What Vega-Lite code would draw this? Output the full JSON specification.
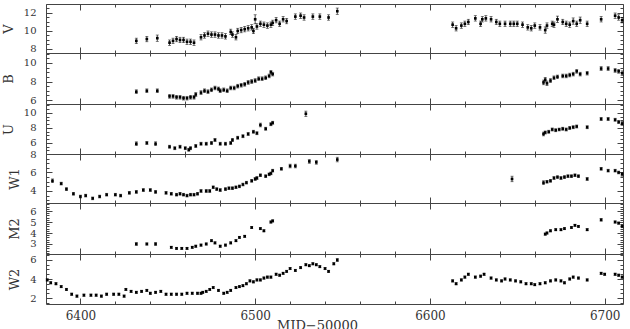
{
"$schema": "https://vega.github.io/schema/vega-lite/v6.json",
"background": "white",
"padding": {"left": 1, "top": 3, "right": 0, "bottom": 0},
"spacing": 0,
"bounds": "flush",
"data": {"values": [
{"band":"V","mjd":6432,"mag":8.9,"err":0.3},{"band":"V","mjd":6438,"mag":9.1,"err":0.3},{"band":"V","mjd":6444,"mag":9.2,"err":0.35},{"band":"V","mjd":6451,"mag":8.7,"err":0.3},{"band":"V","mjd":6453,"mag":8.9,"err":0.3},{"band":"V","mjd":6455,"mag":9.1,"err":0.3},{"band":"V","mjd":6457,"mag":9.0,"err":0.3},{"band":"V","mjd":6459,"mag":9.0,"err":0.3},{"band":"V","mjd":6461,"mag":8.8,"err":0.3},{"band":"V","mjd":6463,"mag":8.8,"err":0.3},{"band":"V","mjd":6465,"mag":8.7,"err":0.3},{"band":"V","mjd":6469,"mag":9.3,"err":0.3},{"band":"V","mjd":6471,"mag":9.5,"err":0.3},{"band":"V","mjd":6473,"mag":9.7,"err":0.3},{"band":"V","mjd":6475,"mag":9.6,"err":0.3},{"band":"V","mjd":6477,"mag":9.6,"err":0.3},{"band":"V","mjd":6479,"mag":9.5,"err":0.3},{"band":"V","mjd":6481,"mag":9.5,"err":0.3},{"band":"V","mjd":6483,"mag":9.4,"err":0.3},{"band":"V","mjd":6486,"mag":9.9,"err":0.3},{"band":"V","mjd":6487,"mag":9.6,"err":0.3},{"band":"V","mjd":6489,"mag":9.3,"err":0.3},{"band":"V","mjd":6490,"mag":10.0,"err":0.3},{"band":"V","mjd":6492,"mag":10.1,"err":0.3},{"band":"V","mjd":6494,"mag":10.2,"err":0.3},{"band":"V","mjd":6496,"mag":10.3,"err":0.3},{"band":"V","mjd":6498,"mag":10.4,"err":0.3},{"band":"V","mjd":6499,"mag":10.0,"err":0.3},{"band":"V","mjd":6500,"mag":11.3,"err":0.5},{"band":"V","mjd":6501,"mag":10.5,"err":0.3},{"band":"V","mjd":6503,"mag":10.8,"err":0.3},{"band":"V","mjd":6505,"mag":10.7,"err":0.3},{"band":"V","mjd":6507,"mag":10.6,"err":0.3},{"band":"V","mjd":6509,"mag":10.7,"err":0.3},{"band":"V","mjd":6510,"mag":10.9,"err":0.3},{"band":"V","mjd":6512,"mag":11.2,"err":0.3},{"band":"V","mjd":6514,"mag":10.8,"err":0.3},{"band":"V","mjd":6516,"mag":11.3,"err":0.3},{"band":"V","mjd":6518,"mag":11.1,"err":0.3},{"band":"V","mjd":6523,"mag":11.6,"err":0.3},{"band":"V","mjd":6526,"mag":11.7,"err":0.3},{"band":"V","mjd":6528,"mag":11.5,"err":0.3},{"band":"V","mjd":6533,"mag":11.6,"err":0.3},{"band":"V","mjd":6537,"mag":11.6,"err":0.3},{"band":"V","mjd":6542,"mag":11.5,"err":0.3},{"band":"V","mjd":6547,"mag":12.2,"err":0.35},
{"band":"V","mjd":6613,"mag":10.7,"err":0.3},{"band":"V","mjd":6615,"mag":10.3,"err":0.3},{"band":"V","mjd":6618,"mag":10.6,"err":0.3},{"band":"V","mjd":6620,"mag":10.8,"err":0.3},{"band":"V","mjd":6622,"mag":11.0,"err":0.3},{"band":"V","mjd":6626,"mag":11.4,"err":0.3},{"band":"V","mjd":6629,"mag":10.8,"err":0.3},{"band":"V","mjd":6630,"mag":11.3,"err":0.3},{"band":"V","mjd":6632,"mag":11.4,"err":0.3},{"band":"V","mjd":6635,"mag":11.3,"err":0.3},{"band":"V","mjd":6638,"mag":11.0,"err":0.3},{"band":"V","mjd":6640,"mag":10.8,"err":0.3},{"band":"V","mjd":6643,"mag":10.8,"err":0.3},{"band":"V","mjd":6646,"mag":10.8,"err":0.3},{"band":"V","mjd":6648,"mag":10.8,"err":0.3},{"band":"V","mjd":6650,"mag":10.8,"err":0.3},{"band":"V","mjd":6653,"mag":10.7,"err":0.3},{"band":"V","mjd":6656,"mag":10.4,"err":0.3},{"band":"V","mjd":6658,"mag":10.3,"err":0.3},{"band":"V","mjd":6660,"mag":10.6,"err":0.3},{"band":"V","mjd":6663,"mag":10.4,"err":0.3},{"band":"V","mjd":6666,"mag":10.1,"err":0.35},{"band":"V","mjd":6667,"mag":10.6,"err":0.3},{"band":"V","mjd":6670,"mag":10.8,"err":0.3},{"band":"V","mjd":6671,"mag":10.7,"err":0.3},{"band":"V","mjd":6673,"mag":11.3,"err":0.35},{"band":"V","mjd":6676,"mag":11.0,"err":0.3},{"band":"V","mjd":6678,"mag":10.8,"err":0.3},{"band":"V","mjd":6680,"mag":10.7,"err":0.3},{"band":"V","mjd":6682,"mag":11.1,"err":0.35},{"band":"V","mjd":6684,"mag":10.8,"err":0.3},{"band":"V","mjd":6686,"mag":11.2,"err":0.35},{"band":"V","mjd":6690,"mag":10.8,"err":0.3},{"band":"V","mjd":6698,"mag":11.3,"err":0.3},{"band":"V","mjd":6706,"mag":11.7,"err":0.3},{"band":"V","mjd":6708,"mag":11.5,"err":0.3},{"band":"V","mjd":6710,"mag":11.2,"err":0.3},
{"band":"B","mjd":6432,"mag":6.9,"err":0.2},{"band":"B","mjd":6438,"mag":7.0,"err":0.2},{"band":"B","mjd":6444,"mag":7.0,"err":0.2},{"band":"B","mjd":6451,"mag":6.4,"err":0.2},{"band":"B","mjd":6453,"mag":6.4,"err":0.2},{"band":"B","mjd":6455,"mag":6.3,"err":0.2},{"band":"B","mjd":6457,"mag":6.3,"err":0.2},{"band":"B","mjd":6459,"mag":6.2,"err":0.2},{"band":"B","mjd":6461,"mag":6.2,"err":0.2},{"band":"B","mjd":6463,"mag":6.3,"err":0.2},{"band":"B","mjd":6465,"mag":6.3,"err":0.2},{"band":"B","mjd":6466,"mag":6.6,"err":0.2},{"band":"B","mjd":6469,"mag":6.8,"err":0.2},{"band":"B","mjd":6471,"mag":7.0,"err":0.2},{"band":"B","mjd":6473,"mag":6.9,"err":0.2},{"band":"B","mjd":6475,"mag":7.1,"err":0.2},{"band":"B","mjd":6477,"mag":7.3,"err":0.2},{"band":"B","mjd":6479,"mag":7.2,"err":0.2},{"band":"B","mjd":6480,"mag":7.0,"err":0.2},{"band":"B","mjd":6482,"mag":7.1,"err":0.2},{"band":"B","mjd":6484,"mag":7.0,"err":0.2},{"band":"B","mjd":6486,"mag":7.3,"err":0.2},{"band":"B","mjd":6488,"mag":7.3,"err":0.2},{"band":"B","mjd":6490,"mag":7.5,"err":0.2},{"band":"B","mjd":6492,"mag":7.6,"err":0.2},{"band":"B","mjd":6494,"mag":7.7,"err":0.2},{"band":"B","mjd":6496,"mag":7.9,"err":0.2},{"band":"B","mjd":6498,"mag":8.0,"err":0.2},{"band":"B","mjd":6500,"mag":8.1,"err":0.2},{"band":"B","mjd":6502,"mag":8.3,"err":0.2},{"band":"B","mjd":6504,"mag":8.3,"err":0.2},{"band":"B","mjd":6506,"mag":8.4,"err":0.2},{"band":"B","mjd":6508,"mag":8.6,"err":0.2},{"band":"B","mjd":6509,"mag":9.0,"err":0.2},{"band":"B","mjd":6510,"mag":8.8,"err":0.2},
{"band":"B","mjd":6665,"mag":7.9,"err":0.25},{"band":"B","mjd":6666,"mag":8.2,"err":0.25},{"band":"B","mjd":6667,"mag":7.8,"err":0.25},{"band":"B","mjd":6669,"mag":8.1,"err":0.2},{"band":"B","mjd":6671,"mag":8.4,"err":0.2},{"band":"B","mjd":6673,"mag":8.5,"err":0.2},{"band":"B","mjd":6676,"mag":8.6,"err":0.2},{"band":"B","mjd":6678,"mag":8.6,"err":0.2},{"band":"B","mjd":6680,"mag":8.7,"err":0.2},{"band":"B","mjd":6682,"mag":8.8,"err":0.2},{"band":"B","mjd":6684,"mag":9.1,"err":0.2},{"band":"B","mjd":6686,"mag":8.8,"err":0.2},{"band":"B","mjd":6690,"mag":8.9,"err":0.2},{"band":"B","mjd":6698,"mag":9.4,"err":0.2},{"band":"B","mjd":6702,"mag":9.4,"err":0.2},{"band":"B","mjd":6706,"mag":9.2,"err":0.2},{"band":"B","mjd":6708,"mag":9.1,"err":0.2},{"band":"B","mjd":6710,"mag":8.9,"err":0.25},
{"band":"U","mjd":6432,"mag":5.9,"err":0.25},{"band":"U","mjd":6438,"mag":6.0,"err":0.2},{"band":"U","mjd":6443,"mag":5.9,"err":0.25},{"band":"U","mjd":6451,"mag":5.5,"err":0.2},{"band":"U","mjd":6454,"mag":5.3,"err":0.2},{"band":"U","mjd":6457,"mag":5.5,"err":0.2},{"band":"U","mjd":6460,"mag":5.3,"err":0.2},{"band":"U","mjd":6462,"mag":5.1,"err":0.2},{"band":"U","mjd":6463,"mag":5.3,"err":0.2},{"band":"U","mjd":6466,"mag":5.6,"err":0.2},{"band":"U","mjd":6469,"mag":5.9,"err":0.2},{"band":"U","mjd":6472,"mag":5.9,"err":0.2},{"band":"U","mjd":6475,"mag":6.0,"err":0.2},{"band":"U","mjd":6477,"mag":6.4,"err":0.2},{"band":"U","mjd":6480,"mag":5.9,"err":0.2},{"band":"U","mjd":6483,"mag":5.9,"err":0.2},{"band":"U","mjd":6486,"mag":6.0,"err":0.2},{"band":"U","mjd":6487,"mag":6.4,"err":0.2},{"band":"U","mjd":6490,"mag":6.7,"err":0.2},{"band":"U","mjd":6493,"mag":6.9,"err":0.2},{"band":"U","mjd":6496,"mag":7.2,"err":0.2},{"band":"U","mjd":6499,"mag":7.5,"err":0.2},{"band":"U","mjd":6501,"mag":7.3,"err":0.2},{"band":"U","mjd":6503,"mag":8.4,"err":0.25},{"band":"U","mjd":6506,"mag":7.9,"err":0.2},{"band":"U","mjd":6509,"mag":8.5,"err":0.2},{"band":"U","mjd":6510,"mag":8.7,"err":0.2},{"band":"U","mjd":6529,"mag":9.9,"err":0.35},
{"band":"U","mjd":6665,"mag":7.2,"err":0.25},{"band":"U","mjd":6666,"mag":7.4,"err":0.2},{"band":"U","mjd":6668,"mag":7.5,"err":0.2},{"band":"U","mjd":6670,"mag":7.8,"err":0.2},{"band":"U","mjd":6672,"mag":7.7,"err":0.2},{"band":"U","mjd":6674,"mag":7.8,"err":0.2},{"band":"U","mjd":6676,"mag":7.9,"err":0.2},{"band":"U","mjd":6678,"mag":7.8,"err":0.2},{"band":"U","mjd":6680,"mag":8.0,"err":0.2},{"band":"U","mjd":6682,"mag":8.1,"err":0.2},{"band":"U","mjd":6684,"mag":8.2,"err":0.2},{"band":"U","mjd":6690,"mag":8.1,"err":0.2},{"band":"U","mjd":6698,"mag":9.2,"err":0.2},{"band":"U","mjd":6702,"mag":9.2,"err":0.2},{"band":"U","mjd":6706,"mag":9.1,"err":0.2},{"band":"U","mjd":6708,"mag":8.8,"err":0.2},{"band":"U","mjd":6710,"mag":8.6,"err":0.25},
{"band":"W1","mjd":6384,"mag":5.1,"err":0.2},{"band":"W1","mjd":6389,"mag":4.8,"err":0.15},{"band":"W1","mjd":6392,"mag":4.2,"err":0.15},{"band":"W1","mjd":6396,"mag":3.7,"err":0.15},{"band":"W1","mjd":6400,"mag":3.4,"err":0.15},{"band":"W1","mjd":6403,"mag":3.5,"err":0.15},{"band":"W1","mjd":6407,"mag":3.2,"err":0.15},{"band":"W1","mjd":6411,"mag":3.4,"err":0.15},{"band":"W1","mjd":6415,"mag":3.6,"err":0.15},{"band":"W1","mjd":6420,"mag":3.6,"err":0.15},{"band":"W1","mjd":6423,"mag":3.5,"err":0.15},{"band":"W1","mjd":6428,"mag":3.8,"err":0.15},{"band":"W1","mjd":6432,"mag":3.9,"err":0.15},{"band":"W1","mjd":6436,"mag":4.1,"err":0.15},{"band":"W1","mjd":6440,"mag":4.1,"err":0.15},{"band":"W1","mjd":6443,"mag":3.9,"err":0.15},{"band":"W1","mjd":6449,"mag":3.8,"err":0.15},{"band":"W1","mjd":6452,"mag":3.7,"err":0.15},{"band":"W1","mjd":6455,"mag":3.6,"err":0.15},{"band":"W1","mjd":6457,"mag":3.7,"err":0.15},{"band":"W1","mjd":6459,"mag":3.6,"err":0.15},{"band":"W1","mjd":6461,"mag":3.5,"err":0.15},{"band":"W1","mjd":6463,"mag":3.6,"err":0.15},{"band":"W1","mjd":6465,"mag":3.6,"err":0.15},{"band":"W1","mjd":6467,"mag":3.7,"err":0.15},{"band":"W1","mjd":6469,"mag":4.0,"err":0.15},{"band":"W1","mjd":6472,"mag":4.0,"err":0.15},{"band":"W1","mjd":6474,"mag":4.0,"err":0.15},{"band":"W1","mjd":6476,"mag":4.4,"err":0.15},{"band":"W1","mjd":6478,"mag":4.2,"err":0.15},{"band":"W1","mjd":6480,"mag":4.1,"err":0.15},{"band":"W1","mjd":6483,"mag":4.2,"err":0.15},{"band":"W1","mjd":6485,"mag":4.3,"err":0.15},{"band":"W1","mjd":6487,"mag":4.3,"err":0.15},{"band":"W1","mjd":6489,"mag":4.4,"err":0.15},{"band":"W1","mjd":6491,"mag":4.5,"err":0.15},{"band":"W1","mjd":6493,"mag":4.7,"err":0.15},{"band":"W1","mjd":6495,"mag":4.9,"err":0.15},{"band":"W1","mjd":6498,"mag":5.1,"err":0.15},{"band":"W1","mjd":6500,"mag":5.3,"err":0.15},{"band":"W1","mjd":6501,"mag":5.4,"err":0.15},{"band":"W1","mjd":6503,"mag":5.7,"err":0.15},{"band":"W1","mjd":6506,"mag":5.6,"err":0.15},{"band":"W1","mjd":6508,"mag":5.8,"err":0.15},{"band":"W1","mjd":6509,"mag":5.9,"err":0.15},{"band":"W1","mjd":6510,"mag":6.2,"err":0.15},{"band":"W1","mjd":6515,"mag":6.4,"err":0.15},{"band":"W1","mjd":6520,"mag":6.7,"err":0.2},{"band":"W1","mjd":6523,"mag":6.7,"err":0.2},{"band":"W1","mjd":6531,"mag":7.2,"err":0.2},{"band":"W1","mjd":6535,"mag":7.1,"err":0.2},{"band":"W1","mjd":6547,"mag":7.4,"err":0.25},
{"band":"W1","mjd":6647,"mag":5.3,"err":0.3},{"band":"W1","mjd":6665,"mag":4.9,"err":0.2},{"band":"W1","mjd":6667,"mag":5.0,"err":0.15},{"band":"W1","mjd":6669,"mag":5.1,"err":0.15},{"band":"W1","mjd":6671,"mag":5.4,"err":0.15},{"band":"W1","mjd":6673,"mag":5.5,"err":0.15},{"band":"W1","mjd":6675,"mag":5.4,"err":0.15},{"band":"W1","mjd":6677,"mag":5.5,"err":0.15},{"band":"W1","mjd":6679,"mag":5.6,"err":0.15},{"band":"W1","mjd":6681,"mag":5.6,"err":0.15},{"band":"W1","mjd":6683,"mag":5.7,"err":0.15},{"band":"W1","mjd":6685,"mag":5.6,"err":0.15},{"band":"W1","mjd":6690,"mag":5.3,"err":0.15},{"band":"W1","mjd":6698,"mag":6.4,"err":0.15},{"band":"W1","mjd":6702,"mag":6.2,"err":0.15},{"band":"W1","mjd":6706,"mag":6.2,"err":0.15},{"band":"W1","mjd":6708,"mag":6.0,"err":0.15},{"band":"W1","mjd":6710,"mag":5.8,"err":0.2},
{"band":"M2","mjd":6432,"mag":3.0,"err":0.12},{"band":"M2","mjd":6438,"mag":3.0,"err":0.1},{"band":"M2","mjd":6443,"mag":3.0,"err":0.12},{"band":"M2","mjd":6452,"mag":2.7,"err":0.1},{"band":"M2","mjd":6455,"mag":2.6,"err":0.1},{"band":"M2","mjd":6458,"mag":2.6,"err":0.1},{"band":"M2","mjd":6461,"mag":2.6,"err":0.1},{"band":"M2","mjd":6464,"mag":2.7,"err":0.1},{"band":"M2","mjd":6466,"mag":2.8,"err":0.1},{"band":"M2","mjd":6469,"mag":2.9,"err":0.1},{"band":"M2","mjd":6472,"mag":3.0,"err":0.1},{"band":"M2","mjd":6475,"mag":3.3,"err":0.1},{"band":"M2","mjd":6477,"mag":3.1,"err":0.1},{"band":"M2","mjd":6480,"mag":2.8,"err":0.1},{"band":"M2","mjd":6483,"mag":2.9,"err":0.1},{"band":"M2","mjd":6486,"mag":3.1,"err":0.1},{"band":"M2","mjd":6489,"mag":3.3,"err":0.1},{"band":"M2","mjd":6491,"mag":3.6,"err":0.1},{"band":"M2","mjd":6494,"mag":3.7,"err":0.1},{"band":"M2","mjd":6498,"mag":4.5,"err":0.1},{"band":"M2","mjd":6503,"mag":4.4,"err":0.1},{"band":"M2","mjd":6505,"mag":4.2,"err":0.1},{"band":"M2","mjd":6509,"mag":5.0,"err":0.1},{"band":"M2","mjd":6510,"mag":5.1,"err":0.1},
{"band":"M2","mjd":6666,"mag":3.9,"err":0.1},{"band":"M2","mjd":6667,"mag":4.0,"err":0.1},{"band":"M2","mjd":6669,"mag":4.2,"err":0.1},{"band":"M2","mjd":6672,"mag":4.3,"err":0.1},{"band":"M2","mjd":6675,"mag":4.3,"err":0.1},{"band":"M2","mjd":6677,"mag":4.4,"err":0.1},{"band":"M2","mjd":6681,"mag":4.5,"err":0.1},{"band":"M2","mjd":6683,"mag":4.7,"err":0.1},{"band":"M2","mjd":6685,"mag":4.6,"err":0.1},{"band":"M2","mjd":6690,"mag":4.3,"err":0.1},{"band":"M2","mjd":6698,"mag":5.2,"err":0.12},{"band":"M2","mjd":6706,"mag":5.0,"err":0.1},{"band":"M2","mjd":6708,"mag":4.9,"err":0.1},{"band":"M2","mjd":6710,"mag":4.6,"err":0.12},
{"band":"W2","mjd":6381,"mag":3.9,"err":0.12},{"band":"W2","mjd":6383,"mag":3.6,"err":0.12},{"band":"W2","mjd":6386,"mag":3.5,"err":0.12},{"band":"W2","mjd":6389,"mag":3.2,"err":0.12},{"band":"W2","mjd":6392,"mag":2.9,"err":0.12},{"band":"W2","mjd":6395,"mag":2.4,"err":0.12},{"band":"W2","mjd":6398,"mag":2.2,"err":0.12},{"band":"W2","mjd":6402,"mag":2.3,"err":0.12},{"band":"W2","mjd":6406,"mag":2.3,"err":0.12},{"band":"W2","mjd":6409,"mag":2.3,"err":0.12},{"band":"W2","mjd":6412,"mag":2.2,"err":0.12},{"band":"W2","mjd":6415,"mag":2.4,"err":0.12},{"band":"W2","mjd":6419,"mag":2.4,"err":0.12},{"band":"W2","mjd":6422,"mag":2.4,"err":0.12},{"band":"W2","mjd":6425,"mag":2.2,"err":0.12},{"band":"W2","mjd":6426,"mag":2.9,"err":0.12},{"band":"W2","mjd":6429,"mag":2.7,"err":0.12},{"band":"W2","mjd":6432,"mag":2.6,"err":0.12},{"band":"W2","mjd":6435,"mag":2.7,"err":0.12},{"band":"W2","mjd":6438,"mag":2.8,"err":0.12},{"band":"W2","mjd":6440,"mag":2.5,"err":0.12},{"band":"W2","mjd":6443,"mag":2.6,"err":0.12},{"band":"W2","mjd":6446,"mag":2.7,"err":0.12},{"band":"W2","mjd":6449,"mag":2.4,"err":0.12},{"band":"W2","mjd":6452,"mag":2.4,"err":0.12},{"band":"W2","mjd":6455,"mag":2.4,"err":0.12},{"band":"W2","mjd":6458,"mag":2.4,"err":0.12},{"band":"W2","mjd":6461,"mag":2.5,"err":0.12},{"band":"W2","mjd":6464,"mag":2.5,"err":0.12},{"band":"W2","mjd":6467,"mag":2.5,"err":0.12},{"band":"W2","mjd":6469,"mag":2.5,"err":0.12},{"band":"W2","mjd":6470,"mag":2.6,"err":0.12},{"band":"W2","mjd":6472,"mag":2.7,"err":0.12},{"band":"W2","mjd":6474,"mag":2.9,"err":0.12},{"band":"W2","mjd":6476,"mag":3.1,"err":0.12},{"band":"W2","mjd":6479,"mag":2.8,"err":0.12},{"band":"W2","mjd":6482,"mag":2.5,"err":0.12},{"band":"W2","mjd":6484,"mag":2.6,"err":0.12},{"band":"W2","mjd":6486,"mag":2.8,"err":0.12},{"band":"W2","mjd":6489,"mag":3.1,"err":0.12},{"band":"W2","mjd":6491,"mag":3.2,"err":0.12},{"band":"W2","mjd":6493,"mag":3.3,"err":0.12},{"band":"W2","mjd":6495,"mag":3.5,"err":0.12},{"band":"W2","mjd":6497,"mag":3.8,"err":0.12},{"band":"W2","mjd":6499,"mag":3.7,"err":0.12},{"band":"W2","mjd":6501,"mag":3.9,"err":0.12},{"band":"W2","mjd":6503,"mag":3.9,"err":0.12},{"band":"W2","mjd":6505,"mag":4.1,"err":0.12},{"band":"W2","mjd":6507,"mag":4.2,"err":0.12},{"band":"W2","mjd":6509,"mag":4.2,"err":0.12},{"band":"W2","mjd":6512,"mag":4.5,"err":0.12},{"band":"W2","mjd":6514,"mag":4.4,"err":0.12},{"band":"W2","mjd":6516,"mag":4.6,"err":0.12},{"band":"W2","mjd":6518,"mag":4.8,"err":0.12},{"band":"W2","mjd":6520,"mag":5.1,"err":0.12},{"band":"W2","mjd":6523,"mag":4.9,"err":0.12},{"band":"W2","mjd":6526,"mag":5.2,"err":0.12},{"band":"W2","mjd":6529,"mag":5.5,"err":0.12},{"band":"W2","mjd":6531,"mag":5.4,"err":0.12},{"band":"W2","mjd":6533,"mag":5.6,"err":0.12},{"band":"W2","mjd":6535,"mag":5.5,"err":0.12},{"band":"W2","mjd":6537,"mag":5.3,"err":0.12},{"band":"W2","mjd":6540,"mag":5.1,"err":0.12},{"band":"W2","mjd":6542,"mag":4.8,"err":0.12},{"band":"W2","mjd":6545,"mag":5.6,"err":0.12},{"band":"W2","mjd":6547,"mag":6.0,"err":0.15},
{"band":"W2","mjd":6613,"mag":3.8,"err":0.12},{"band":"W2","mjd":6615,"mag":3.5,"err":0.12},{"band":"W2","mjd":6618,"mag":3.9,"err":0.12},{"band":"W2","mjd":6620,"mag":4.2,"err":0.12},{"band":"W2","mjd":6622,"mag":4.5,"err":0.12},{"band":"W2","mjd":6626,"mag":4.2,"err":0.12},{"band":"W2","mjd":6629,"mag":4.3,"err":0.12},{"band":"W2","mjd":6631,"mag":4.5,"err":0.12},{"band":"W2","mjd":6635,"mag":4.1,"err":0.12},{"band":"W2","mjd":6638,"mag":3.9,"err":0.12},{"band":"W2","mjd":6641,"mag":3.8,"err":0.12},{"band":"W2","mjd":6643,"mag":4.0,"err":0.12},{"band":"W2","mjd":6646,"mag":3.9,"err":0.12},{"band":"W2","mjd":6649,"mag":3.8,"err":0.12},{"band":"W2","mjd":6652,"mag":3.7,"err":0.12},{"band":"W2","mjd":6655,"mag":3.5,"err":0.12},{"band":"W2","mjd":6658,"mag":3.5,"err":0.12},{"band":"W2","mjd":6660,"mag":3.4,"err":0.12},{"band":"W2","mjd":6663,"mag":3.5,"err":0.12},{"band":"W2","mjd":6666,"mag":3.6,"err":0.12},{"band":"W2","mjd":6669,"mag":3.8,"err":0.12},{"band":"W2","mjd":6672,"mag":3.9,"err":0.12},{"band":"W2","mjd":6675,"mag":3.8,"err":0.12},{"band":"W2","mjd":6677,"mag":3.6,"err":0.12},{"band":"W2","mjd":6680,"mag":4.0,"err":0.12},{"band":"W2","mjd":6682,"mag":4.2,"err":0.12},{"band":"W2","mjd":6685,"mag":4.1,"err":0.12},{"band":"W2","mjd":6690,"mag":3.9,"err":0.12},{"band":"W2","mjd":6698,"mag":4.6,"err":0.12},{"band":"W2","mjd":6700,"mag":4.5,"err":0.12},{"band":"W2","mjd":6706,"mag":4.5,"err":0.12},{"band":"W2","mjd":6708,"mag":4.4,"err":0.12},{"band":"W2","mjd":6710,"mag":4.2,"err":0.12}
]},
"vconcat": [
{"width":577,"height":49,"transform":[{"filter":"datum.band==='V'"}],
 "layer":[
  {"mark":{"type":"errorbar","ticks":{"size":3},"color":"#000","thickness":0.7},"encoding":{"x":{"field":"mjd","type":"quantitative","scale":{"domain":[6380.3,6710.5],"nice":false,"zero":false},"axis":{"orient":"bottom","values":[6400,6500,6600,6700],"tickSize":-6,"labels":false,"title":null}},"y":{"field":"mag","type":"quantitative","scale":{"domain":[7.55,13.0],"nice":false,"zero":false},"axis":{"orient":"left","values":[8,10,12],"tickSize":-6,"title":"V","labelPadding":16,"titlePadding":8}},"yError":{"field":"err"}}},
  {"mark":{"type":"square","size":7,"color":"#000","opacity":1},"encoding":{"x":{"field":"mjd","type":"quantitative","scale":{"domain":[6380.3,6710.5],"nice":false,"zero":false},"axis":{"orient":"top","values":[6400,6500,6600,6700],"tickSize":-6,"labels":false,"title":null}},"y":{"field":"mag","type":"quantitative","scale":{"domain":[7.55,13.0],"nice":false,"zero":false},"axis":{"orient":"right","values":[8,10,12],"tickSize":-6,"labels":false,"title":null}}}},
  {"mark":{"type":"point","opacity":0},"encoding":{"x":{"field":"mjd","type":"quantitative","scale":{"domain":[6380.3,6710.5],"nice":false,"zero":false},"axis":{"orient":"bottom","values":[6400,6420,6440,6460,6480,6500,6520,6540,6560,6580,6600,6620,6640,6660,6680,6700],"tickSize":-3,"labels":false,"title":null}},"y":{"field":"mag","type":"quantitative","scale":{"domain":[7.55,13.0],"nice":false,"zero":false},"axis":{"orient":"left","values":[8,8.5,9,9.5,10,10.5,11,11.5,12,12.5,13],"tickSize":-3,"labels":false,"title":null}}}},
  {"mark":{"type":"point","opacity":0},"encoding":{"x":{"field":"mjd","type":"quantitative","scale":{"domain":[6380.3,6710.5],"nice":false,"zero":false},"axis":{"orient":"top","values":[6400,6420,6440,6460,6480,6500,6520,6540,6560,6580,6600,6620,6640,6660,6680,6700],"tickSize":-3,"labels":false,"title":null}},"y":{"field":"mag","type":"quantitative","scale":{"domain":[7.55,13.0],"nice":false,"zero":false},"axis":{"orient":"right","values":[8,8.5,9,9.5,10,10.5,11,11.5,12,12.5,13],"tickSize":-3,"labels":false,"title":null}}}}
 ],
 "resolve":{"axis":{"x":"independent","y":"independent"}}},
{"width":577,"height":51,"transform":[{"filter":"datum.band==='B'"}],
 "layer":[
  {"mark":{"type":"errorbar","ticks":{"size":3},"color":"#000","thickness":0.7},"encoding":{"x":{"field":"mjd","type":"quantitative","scale":{"domain":[6380.3,6710.5],"nice":false,"zero":false},"axis":{"orient":"bottom","values":[6400,6500,6600,6700],"tickSize":-6,"labels":false,"title":null}},"y":{"field":"mag","type":"quantitative","scale":{"domain":[5.57,11.08],"nice":false,"zero":false},"axis":{"orient":"left","values":[6,8,10],"tickSize":-6,"title":"B","labelPadding":16,"titlePadding":8}},"yError":{"field":"err"}}},
  {"mark":{"type":"square","size":7,"color":"#000","opacity":1},"encoding":{"x":{"field":"mjd","type":"quantitative","scale":{"domain":[6380.3,6710.5],"nice":false,"zero":false},"axis":{"orient":"top","values":[6400,6500,6600,6700],"tickSize":-6,"labels":false,"title":null}},"y":{"field":"mag","type":"quantitative","scale":{"domain":[5.57,11.08],"nice":false,"zero":false},"axis":{"orient":"right","values":[6,8,10],"tickSize":-6,"labels":false,"title":null}}}},
  {"mark":{"type":"point","opacity":0},"encoding":{"x":{"field":"mjd","type":"quantitative","scale":{"domain":[6380.3,6710.5],"nice":false,"zero":false},"axis":{"orient":"bottom","values":[6400,6420,6440,6460,6480,6500,6520,6540,6560,6580,6600,6620,6640,6660,6680,6700],"tickSize":-3,"labels":false,"title":null}},"y":{"field":"mag","type":"quantitative","scale":{"domain":[5.57,11.08],"nice":false,"zero":false},"axis":{"orient":"left","values":[6,6.5,7,7.5,8,8.5,9,9.5,10,10.5,11],"tickSize":-3,"labels":false,"title":null}}}},
  {"mark":{"type":"point","opacity":0},"encoding":{"x":{"field":"mjd","type":"quantitative","scale":{"domain":[6380.3,6710.5],"nice":false,"zero":false},"axis":{"orient":"top","values":[6400,6420,6440,6460,6480,6500,6520,6540,6560,6580,6600,6620,6640,6660,6680,6700],"tickSize":-3,"labels":false,"title":null}},"y":{"field":"mag","type":"quantitative","scale":{"domain":[5.57,11.08],"nice":false,"zero":false},"axis":{"orient":"right","values":[6,6.5,7,7.5,8,8.5,9,9.5,10,10.5,11],"tickSize":-3,"labels":false,"title":null}}}}
 ],
 "resolve":{"axis":{"x":"independent","y":"independent"}}},
{"width":577,"height":50,"transform":[{"filter":"datum.band==='U'"}],
 "layer":[
  {"mark":{"type":"errorbar","ticks":{"size":3},"color":"#000","thickness":0.7},"encoding":{"x":{"field":"mjd","type":"quantitative","scale":{"domain":[6380.3,6710.5],"nice":false,"zero":false},"axis":{"orient":"bottom","values":[6400,6500,6600,6700],"tickSize":-6,"labels":false,"title":null}},"y":{"field":"mag","type":"quantitative","scale":{"domain":[4.53,11.2],"nice":false,"zero":false},"axis":{"orient":"left","values":[6,8,10],"tickSize":-6,"title":"U","labelPadding":16,"titlePadding":8}},"yError":{"field":"err"}}},
  {"mark":{"type":"square","size":7,"color":"#000","opacity":1},"encoding":{"x":{"field":"mjd","type":"quantitative","scale":{"domain":[6380.3,6710.5],"nice":false,"zero":false},"axis":{"orient":"top","values":[6400,6500,6600,6700],"tickSize":-6,"labels":false,"title":null}},"y":{"field":"mag","type":"quantitative","scale":{"domain":[4.53,11.2],"nice":false,"zero":false},"axis":{"orient":"right","values":[6,8,10],"tickSize":-6,"labels":false,"title":null}}}},
  {"mark":{"type":"point","opacity":0},"encoding":{"x":{"field":"mjd","type":"quantitative","scale":{"domain":[6380.3,6710.5],"nice":false,"zero":false},"axis":{"orient":"bottom","values":[6400,6420,6440,6460,6480,6500,6520,6540,6560,6580,6600,6620,6640,6660,6680,6700],"tickSize":-3,"labels":false,"title":null}},"y":{"field":"mag","type":"quantitative","scale":{"domain":[4.53,11.2],"nice":false,"zero":false},"axis":{"orient":"left","values":[5,5.5,6,6.5,7,7.5,8,8.5,9,9.5,10,10.5,11],"tickSize":-3,"labels":false,"title":null}}}},
  {"mark":{"type":"point","opacity":0},"encoding":{"x":{"field":"mjd","type":"quantitative","scale":{"domain":[6380.3,6710.5],"nice":false,"zero":false},"axis":{"orient":"top","values":[6400,6420,6440,6460,6480,6500,6520,6540,6560,6580,6600,6620,6640,6660,6680,6700],"tickSize":-3,"labels":false,"title":null}},"y":{"field":"mag","type":"quantitative","scale":{"domain":[4.53,11.2],"nice":false,"zero":false},"axis":{"orient":"right","values":[5,5.5,6,6.5,7,7.5,8,8.5,9,9.5,10,10.5,11],"tickSize":-3,"labels":false,"title":null}}}}
 ],
 "resolve":{"axis":{"x":"independent","y":"independent"}}},
{"width":577,"height":49,"transform":[{"filter":"datum.band==='W1'"}],
 "layer":[
  {"mark":{"type":"errorbar","ticks":{"size":3},"color":"#000","thickness":0.7},"encoding":{"x":{"field":"mjd","type":"quantitative","scale":{"domain":[6380.3,6710.5],"nice":false,"zero":false},"axis":{"orient":"bottom","values":[6400,6500,6600,6700],"tickSize":-6,"labels":false,"title":null}},"y":{"field":"mag","type":"quantitative","scale":{"domain":[2.7,8.0],"nice":false,"zero":false},"axis":{"orient":"left","values":[4,6,8],"tickSize":-6,"title":"W1","labelPadding":16,"titlePadding":8}},"yError":{"field":"err"}}},
  {"mark":{"type":"square","size":7,"color":"#000","opacity":1},"encoding":{"x":{"field":"mjd","type":"quantitative","scale":{"domain":[6380.3,6710.5],"nice":false,"zero":false},"axis":{"orient":"top","values":[6400,6500,6600,6700],"tickSize":-6,"labels":false,"title":null}},"y":{"field":"mag","type":"quantitative","scale":{"domain":[2.7,8.0],"nice":false,"zero":false},"axis":{"orient":"right","values":[4,6,8],"tickSize":-6,"labels":false,"title":null}}}},
  {"mark":{"type":"point","opacity":0},"encoding":{"x":{"field":"mjd","type":"quantitative","scale":{"domain":[6380.3,6710.5],"nice":false,"zero":false},"axis":{"orient":"bottom","values":[6400,6420,6440,6460,6480,6500,6520,6540,6560,6580,6600,6620,6640,6660,6680,6700],"tickSize":-3,"labels":false,"title":null}},"y":{"field":"mag","type":"quantitative","scale":{"domain":[2.7,8.0],"nice":false,"zero":false},"axis":{"orient":"left","values":[3,3.5,4,4.5,5,5.5,6,6.5,7,7.5,8],"tickSize":-3,"labels":false,"title":null}}}},
  {"mark":{"type":"point","opacity":0},"encoding":{"x":{"field":"mjd","type":"quantitative","scale":{"domain":[6380.3,6710.5],"nice":false,"zero":false},"axis":{"orient":"top","values":[6400,6420,6440,6460,6480,6500,6520,6540,6560,6580,6600,6620,6640,6660,6680,6700],"tickSize":-3,"labels":false,"title":null}},"y":{"field":"mag","type":"quantitative","scale":{"domain":[2.7,8.0],"nice":false,"zero":false},"axis":{"orient":"right","values":[3,3.5,4,4.5,5,5.5,6,6.5,7,7.5,8],"tickSize":-3,"labels":false,"title":null}}}}
 ],
 "resolve":{"axis":{"x":"independent","y":"independent"}}},
{"width":577,"height":51,"transform":[{"filter":"datum.band==='M2'"}],
 "layer":[
  {"mark":{"type":"errorbar","ticks":{"size":3},"color":"#000","thickness":0.7},"encoding":{"x":{"field":"mjd","type":"quantitative","scale":{"domain":[6380.3,6710.5],"nice":false,"zero":false},"axis":{"orient":"bottom","values":[6400,6500,6600,6700],"tickSize":-6,"labels":false,"title":null}},"y":{"field":"mag","type":"quantitative","scale":{"domain":[2.09,6.73],"nice":false,"zero":false},"axis":{"orient":"left","values":[3,4,5,6],"tickSize":-6,"title":"M2","labelPadding":16,"titlePadding":8}},"yError":{"field":"err"}}},
  {"mark":{"type":"square","size":7,"color":"#000","opacity":1},"encoding":{"x":{"field":"mjd","type":"quantitative","scale":{"domain":[6380.3,6710.5],"nice":false,"zero":false},"axis":{"orient":"top","values":[6400,6500,6600,6700],"tickSize":-6,"labels":false,"title":null}},"y":{"field":"mag","type":"quantitative","scale":{"domain":[2.09,6.73],"nice":false,"zero":false},"axis":{"orient":"right","values":[3,4,5,6],"tickSize":-6,"labels":false,"title":null}}}},
  {"mark":{"type":"point","opacity":0},"encoding":{"x":{"field":"mjd","type":"quantitative","scale":{"domain":[6380.3,6710.5],"nice":false,"zero":false},"axis":{"orient":"bottom","values":[6400,6420,6440,6460,6480,6500,6520,6540,6560,6580,6600,6620,6640,6660,6680,6700],"tickSize":-3,"labels":false,"title":null}},"y":{"field":"mag","type":"quantitative","scale":{"domain":[2.09,6.73],"nice":false,"zero":false},"axis":{"orient":"left","values":[2.2,2.4,2.6,2.8,3,3.2,3.4,3.6,3.8,4,4.2,4.4,4.6,4.8,5,5.2,5.4,5.6,5.8,6,6.2,6.4,6.6],"tickSize":-3,"labels":false,"title":null}}}},
  {"mark":{"type":"point","opacity":0},"encoding":{"x":{"field":"mjd","type":"quantitative","scale":{"domain":[6380.3,6710.5],"nice":false,"zero":false},"axis":{"orient":"top","values":[6400,6420,6440,6460,6480,6500,6520,6540,6560,6580,6600,6620,6640,6660,6680,6700],"tickSize":-3,"labels":false,"title":null}},"y":{"field":"mag","type":"quantitative","scale":{"domain":[2.09,6.73],"nice":false,"zero":false},"axis":{"orient":"right","values":[2.2,2.4,2.6,2.8,3,3.2,3.4,3.6,3.8,4,4.2,4.4,4.6,4.8,5,5.2,5.4,5.6,5.8,6,6.2,6.4,6.6],"tickSize":-3,"labels":false,"title":null}}}}
 ],
 "resolve":{"axis":{"x":"independent","y":"independent"}}},
{"width":577,"height":50,"transform":[{"filter":"datum.band==='W2'"}],
 "layer":[
  {"mark":{"type":"errorbar","ticks":{"size":3},"color":"#000","thickness":0.7},"encoding":{"x":{"field":"mjd","type":"quantitative","scale":{"domain":[6380.3,6710.5],"nice":false,"zero":false},"axis":{"orient":"bottom","values":[6400,6500,6600,6700],"format":"d","tickSize":-6,"labels":true,"labelPadding":12,"labelFontSize":12,"title":"MJD−50000","titleX":271,"titleY":15,"titleBaseline":"top"}},"y":{"field":"mag","type":"quantitative","scale":{"domain":[1.37,6.63],"nice":false,"zero":false},"axis":{"orient":"left","values":[2,4,6],"tickSize":-6,"title":"W2","labelPadding":16,"titlePadding":8}},"yError":{"field":"err"}}},
  {"mark":{"type":"square","size":7,"color":"#000","opacity":1},"encoding":{"x":{"field":"mjd","type":"quantitative","scale":{"domain":[6380.3,6710.5],"nice":false,"zero":false},"axis":{"orient":"top","values":[6400,6500,6600,6700],"tickSize":-6,"labels":false,"title":null}},"y":{"field":"mag","type":"quantitative","scale":{"domain":[1.37,6.63],"nice":false,"zero":false},"axis":{"orient":"right","values":[2,4,6],"tickSize":-6,"labels":false,"title":null}}}},
  {"mark":{"type":"point","opacity":0},"encoding":{"x":{"field":"mjd","type":"quantitative","scale":{"domain":[6380.3,6710.5],"nice":false,"zero":false},"axis":{"orient":"bottom","values":[6400,6420,6440,6460,6480,6500,6520,6540,6560,6580,6600,6620,6640,6660,6680,6700],"tickSize":-3,"labels":false,"title":null}},"y":{"field":"mag","type":"quantitative","scale":{"domain":[1.37,6.63],"nice":false,"zero":false},"axis":{"orient":"left","values":[1.5,2,2.5,3,3.5,4,4.5,5,5.5,6,6.5],"tickSize":-3,"labels":false,"title":null}}}},
  {"mark":{"type":"point","opacity":0},"encoding":{"x":{"field":"mjd","type":"quantitative","scale":{"domain":[6380.3,6710.5],"nice":false,"zero":false},"axis":{"orient":"top","values":[6400,6420,6440,6460,6480,6500,6520,6540,6560,6580,6600,6620,6640,6660,6680,6700],"tickSize":-3,"labels":false,"title":null}},"y":{"field":"mag","type":"quantitative","scale":{"domain":[1.37,6.63],"nice":false,"zero":false},"axis":{"orient":"right","values":[1.5,2,2.5,3,3.5,4,4.5,5,5.5,6,6.5],"tickSize":-3,"labels":false,"title":null}}}}
 ],
 "resolve":{"axis":{"x":"independent","y":"independent"}}}
],
"config": {
 "view": {"stroke": "#444", "strokeWidth": 1},
 "axis": {"grid": false, "domain": false, "tickColor": "#444", "tickWidth": 1, "labelFont": "DejaVu Serif", "labelFontSize": 10, "labelColor": "#333", "labelFlush": false, "labelOverlap": false, "titleFont": "DejaVu Serif", "titleFontSize": 13, "titleFontWeight": "normal", "titleColor": "#333"}
}
}
